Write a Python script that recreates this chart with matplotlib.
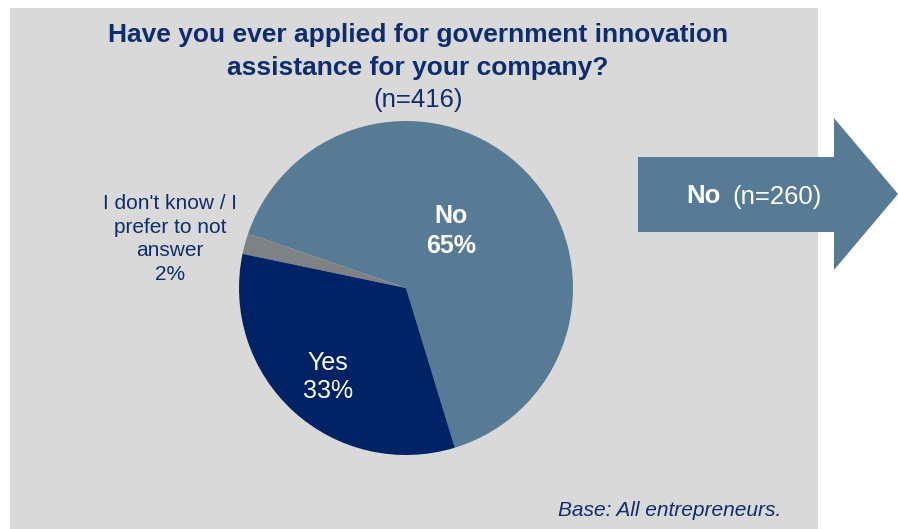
import matplotlib
matplotlib.use("Agg")
import matplotlib.pyplot as plt
from matplotlib.patches import Rectangle, Polygon

plt.rcParams['font.family'] = ['Liberation Sans', 'DejaVu Sans']

# survey answers, in drawing order (counter-clockwise from the start angle)
answers = ["No", "I don't know / I\nprefer to not\nanswer", "Yes"]
shares = [65, 2, 33]
colors = ["#577B95", "#7F8284", "#002366"]
n_total = 416
n_no = 260

NAVY = "#0E2D6E"
W, H = 898, 529

fig = plt.figure(figsize=(W / 100, H / 100), dpi=100)
fig.patch.set_facecolor("white")

# grey panel behind everything
bg = fig.add_axes([0, 0, 1, 1], zorder=0)
bg.set_xlim(0, W)
bg.set_ylim(H, 0)
bg.axis("off")
bg.add_patch(Rectangle((10, 8), 808, 530, facecolor="#D9D9D9", edgecolor="none"))

# pie axes sized to the circle
cx, cy, r = 406, 288, 167
pax = fig.add_axes([(cx - r) / W, (H - cy - r) / H, 2 * r / W, 2 * r / H], zorder=1)
pax.pie(shares, colors=colors, startangle=-73, counterclock=True,
        wedgeprops=dict(linewidth=0))
pax.set_xlim(-1, 1)
pax.set_ylim(-1, 1)
pax.axis("off")

# overlay in pixel coordinates for text and the arrow
ov = fig.add_axes([0, 0, 1, 1], zorder=2)
ov.set_xlim(0, W)
ov.set_ylim(H, 0)
ov.axis("off")
ov.patch.set_alpha(0)

# title
ov.text(418, 35, "Have you ever applied for government innovation", ha="center", va="center",
        fontsize=19, fontweight="bold", color=NAVY)
ov.text(418, 68, "assistance for your company?", ha="center", va="center",
        fontsize=19, fontweight="bold", color=NAVY)
ov.text(418, 100, f"(n={n_total})", ha="center", va="center", fontsize=18.5, color=NAVY)

# slice labels
ov.text(451, 231, f"{answers[0]}\n{shares[0]}%", ha="center", va="center", fontsize=18,
        fontweight="bold", color="white", linespacing=1.3)
ov.text(328, 377, f"{answers[2]}\n{shares[2]}%", ha="center", va="center", fontsize=18,
        color="white", linespacing=1.25)
ov.text(170, 239, f"{answers[1]}\n{shares[1]}%", ha="center", va="center", fontsize=15,
        color=NAVY, linespacing=1.31)

# arrow for the "No" branch
arrow = Polygon([(638, 157), (834, 157), (834, 118), (898, 194), (834, 270), (834, 232), (638, 232)],
                closed=True, facecolor="#577B95", edgecolor="none")
ov.add_patch(arrow)
ov.text(721, 196, "No", ha="right", va="center", fontsize=18.5, fontweight="bold", color="white")
ov.text(732, 197, f"(n={n_no})", ha="left", va="center", fontsize=18.5, color="white")

ov.text(781, 510, "Base: All entrepreneurs.", ha="right", va="center", fontsize=15,
        style="italic", color=NAVY)

fig.savefig("out.png", dpi=100)
